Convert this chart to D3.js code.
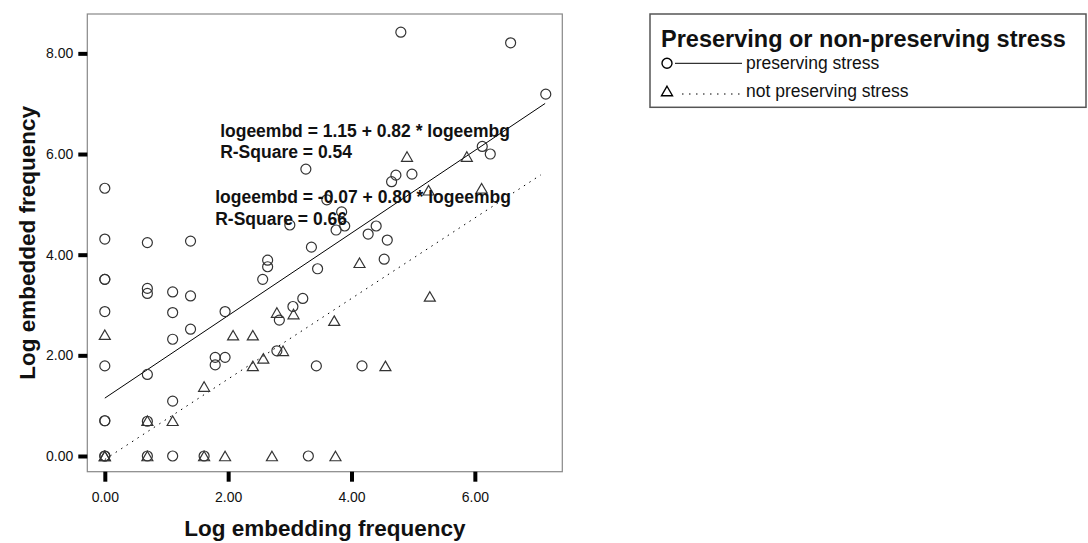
<!DOCTYPE html>
<html>
<head>
<meta charset="utf-8">
<script src="https://cdn.jsdelivr.net/npm/d3@7/dist/d3.min.js"></script>
<style>
  body { margin: 0; background: #fff; }
  text { font-family: "Liberation Sans", Arial, Helvetica, sans-serif; fill: #111; }
</style>
</head>
<body>
<div id="chart"></div>
<script>
// preserving stress (circles)
const presX = [0, 0, 0, 0, 0, 0, 0, 0, 0, 0,
  0.69, 0.69, 0.69, 0.69, 0.69, 0.69,
  1.10, 1.10, 1.10, 1.10, 1.10,
  1.39, 1.39, 1.39, 1.61,
  1.79, 1.79, 1.95, 1.95,
  2.56, 2.64, 2.64, 2.79, 2.83, 3.05, 3.21, 3.00,
  3.30, 3.26, 3.35, 3.43, 3.45, 3.60, 3.75, 3.84, 3.89,
  4.17, 4.27, 4.40, 4.53, 4.58, 4.65, 4.72, 4.98, 4.80,
  6.12, 6.25, 6.58, 7.15];
const presY = [0, 0, 0.70, 0.70, 1.79, 2.87, 3.51, 3.51, 4.31, 5.32,
  0, 0.69, 1.62, 3.23, 3.33, 4.24,
  0, 1.09, 2.32, 2.85, 3.26,
  2.52, 3.18, 4.27, 0,
  1.81, 1.96, 1.96, 2.87,
  3.51, 3.76, 3.89, 2.09, 2.70, 2.97, 3.13, 4.59,
  0, 5.70, 4.15, 1.79, 3.72, 5.09, 4.49, 4.85, 4.57,
  1.79, 4.41, 4.57, 3.91, 4.29, 5.45, 5.58, 5.60, 8.42,
  6.15, 6.00, 8.21, 7.19];

// not preserving stress (triangles)
const notX = [0, 0, 0, 0.69, 0.69, 1.10, 1.61, 1.61, 1.95,
  2.08, 2.40, 2.40, 2.57, 2.89, 2.71, 2.79, 3.06,
  3.74, 3.72, 4.13, 4.55, 4.90, 5.25, 5.27, 5.87, 6.11];
const notY = [0, 0, 2.41, 0, 0.70, 0.70, 0, 1.38, 0,
  2.40, 2.40, 1.79, 1.94, 2.09, 0, 2.85, 2.82,
  0, 2.69, 3.84, 1.79, 5.95, 5.28, 3.17, 5.95, 5.32];

const xTicks = [0, 2, 4, 6];
const yTicks = [0, 2, 4, 6, 8];

// fit lines: intercept, slope, r-square, x range
const fitIntercept = [1.15, -0.07];
const fitSlope = [0.82, 0.80];
const fitRSquare = ['0.54', '0.66'];
const fitXEnd = [7.14, 7.07];
const fitDash = [null, '1.5,5'];
// where the fit labels sit (data coords, first baseline)
const labelX = [1.87, 1.79];
const labelY = [6.34, 5.02];

const legendTitle = 'Preserving or non-preserving stress';
const legendLabels = ['preserving stress', 'not preserving stress'];

const width = 1088;
const height = 543;
const frame = {left: 87.3, top: 14, right: 562.3, bottom: 471.7};

const svg = d3.select('#chart').append('svg')
  .attr('width', width)
  .attr('height', height);

const xScale = d3.scaleLinear()
  .domain([-0.284, 7.418])
  .range([frame.left, frame.right]);

const yScale = d3.scaleLinear()
  .domain([-0.312, 8.782])
  .range([frame.bottom, frame.top]);

// frame
svg.append('rect')
  .attr('x', frame.left)
  .attr('y', frame.top)
  .attr('width', frame.right - frame.left)
  .attr('height', frame.bottom - frame.top)
  .attr('fill', 'none')
  .attr('stroke', '#888')
  .attr('stroke-width', 1.2);

// axes
const xAxis = d3.axisBottom(xScale).tickValues(xTicks).tickFormat(d3.format('.2f'))
  .tickSizeOuter(0).tickSizeInner(10).tickPadding(10);
const yAxis = d3.axisLeft(yScale).tickValues(yTicks).tickFormat(d3.format('.2f'))
  .tickSizeOuter(0).tickSizeInner(9).tickPadding(5);

const xAxisG = svg.append('g')
  .attr('transform', `translate(0, ${frame.bottom})`)
  .call(xAxis);
const yAxisG = svg.append('g')
  .attr('transform', `translate(${frame.left}, 0)`)
  .call(yAxis);

[xAxisG, yAxisG].forEach(g => {
  g.select('.domain').remove();
  g.selectAll('line').attr('stroke', '#000').attr('stroke-width', 4);
  g.selectAll('text')
    .style('font-size', '14px')
    .style('font-family', '"Liberation Sans", Arial, sans-serif')
    .attr('fill', '#222');
});

// axis titles
svg.append('text')
  .attr('x', (frame.left + frame.right) / 2)
  .attr('y', 536)
  .attr('text-anchor', 'middle')
  .style('font-size', '22.5px')
  .style('font-weight', 'bold')
  .text('Log embedding frequency');

svg.append('text')
  .attr('transform', `translate(35, ${(frame.top + frame.bottom) / 2}) rotate(-90)`)
  .attr('text-anchor', 'middle')
  .style('font-size', '22.5px')
  .style('font-weight', 'bold')
  .text('Log embedded frequency');

// fit lines
fitIntercept.forEach((a, i) => {
  const xs = [0, fitXEnd[i]];
  svg.append('line')
    .attr('x1', xScale(xs[0]))
    .attr('y1', yScale(a + fitSlope[i] * xs[0]))
    .attr('x2', xScale(xs[1]))
    .attr('y2', yScale(a + fitSlope[i] * xs[1]))
    .attr('stroke', '#000')
    .attr('stroke-width', 1)
    .attr('stroke-dasharray', fitDash[i]);
});

// markers
const markerColor = '#333';
const presData = presX.map((x, i) => ({x: x, y: presY[i]}));
const notData = notX.map((x, i) => ({x: x, y: notY[i]}));

const triPath = (cx, cy) => {
  const w = 11, h = 9.5;
  return `M${cx},${cy - h / 2}L${cx + w / 2},${cy + h / 2}L${cx - w / 2},${cy + h / 2}Z`;
};

svg.append('g').selectAll('path')
  .data(notData)
  .enter().append('path')
  .attr('d', d => triPath(xScale(d.x), yScale(d.y)))
  .attr('fill', 'none')
  .attr('stroke', markerColor)
  .attr('stroke-width', 1.2);

svg.append('g').selectAll('circle')
  .data(presData)
  .enter().append('circle')
  .attr('cx', d => xScale(d.x))
  .attr('cy', d => yScale(d.y))
  .attr('r', 5)
  .attr('fill', 'none')
  .attr('stroke', markerColor)
  .attr('stroke-width', 1.2);

// fit labels
fitIntercept.forEach((a, i) => {
  const sign = a < 0 ? '-' : '';
  const g = svg.append('g')
    .attr('transform', `translate(${xScale(labelX[i])}, ${yScale(labelY[i])})`);
  g.append('text')
    .style('font-size', '17.5px')
    .style('font-weight', 'bold')
    .text(`logeembd = ${sign}${Math.abs(a).toFixed(2)} + ${fitSlope[i].toFixed(2)} * logeembg`);
  g.append('text')
    .attr('y', 21.6)
    .style('font-size', '17.5px')
    .style('font-weight', 'bold')
    .text(`R-Square = ${fitRSquare[i]}`);
});

// legend
const legend = svg.append('g');
legend.append('rect')
  .attr('x', 650)
  .attr('y', 14)
  .attr('width', 436)
  .attr('height', 93.3)
  .attr('fill', '#fff')
  .attr('stroke', '#555')
  .attr('stroke-width', 1.5);

legend.append('text')
  .attr('x', 661)
  .attr('y', 46.7)
  .style('font-size', '23.5px')
  .style('font-weight', 'bold')
  .text(legendTitle);

legendLabels.forEach((label, i) => {
  const cy = i === 0 ? 63.3 : 91;
  if (i === 0) {
    legend.append('circle')
      .attr('cx', 667).attr('cy', cy).attr('r', 5)
      .attr('fill', 'none').attr('stroke', '#000').attr('stroke-width', 1.4);
    legend.append('line')
      .attr('x1', 675).attr('x2', 742).attr('y1', cy).attr('y2', cy)
      .attr('stroke', '#000').attr('stroke-width', 1);
  } else {
    legend.append('path')
      .attr('d', triPath(667, cy))
      .attr('fill', 'none').attr('stroke', '#000').attr('stroke-width', 1.4);
    legend.append('line')
      .attr('x1', 682).attr('x2', 741).attr('y1', cy + 3).attr('y2', cy + 3)
      .attr('stroke', '#000').attr('stroke-width', 1)
      .attr('stroke-dasharray', '1.5,5.5');
  }
  legend.append('text')
    .attr('x', 746)
    .attr('y', cy + 5.5)
    .style('font-size', '17.5px')
    .text(label);
});
</script>
</body>
</html>
